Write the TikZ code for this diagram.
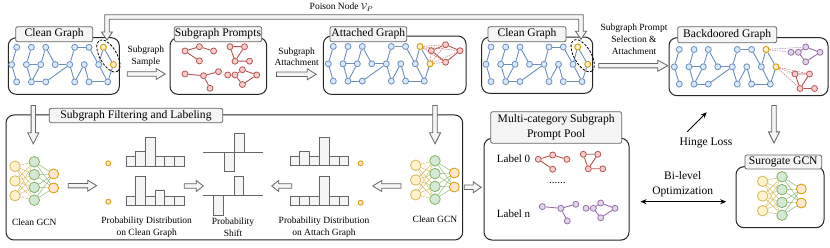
\documentclass[tikz,border=0pt]{standalone}
\usepackage{fontspec}
\setmainfont{Liberation Serif}
\usetikzlibrary{shapes.geometric,calc,arrows.meta}

\definecolor{bline}{HTML}{6C8EBF}
\definecolor{bfill}{HTML}{DAE8FC}
\definecolor{oline}{HTML}{D79B00}
\definecolor{ofill}{HTML}{FFE6CC}
\definecolor{redline}{HTML}{B85450}
\definecolor{redfill}{HTML}{F8CECC}
\definecolor{purpleline}{HTML}{9673A6}
\definecolor{purplefill}{HTML}{E1D5E7}
\definecolor{gline}{HTML}{666666}
\definecolor{gfill}{HTML}{F5F5F5}
\definecolor{yline}{HTML}{D6B656}
\definecolor{yfill}{HTML}{FFF2CC}
\definecolor{grline}{HTML}{82B366}
\definecolor{grfill}{HTML}{D5E8D4}

\tikzset{
 bn/.style={circle, draw=bline, fill=bfill, line width=0.8pt, minimum size=6pt, inner sep=0pt},
 on/.style={circle, draw=oline, fill=yfill, line width=0.9pt, minimum size=6pt, inner sep=0pt},
 be/.style={draw=bline, line width=0.9pt},
 sn/.style={circle, draw=#1line, fill=#1fill, line width=0.8pt, minimum size=6pt, inner sep=0pt},
 se/.style={draw=#1line, line width=0.9pt},
 dsh/.style={draw=#1line!85, line width=0.5pt, dash pattern=on 1.5pt off 1pt},
 mainbox/.style={draw=black!85, line width=1pt, rounded corners=8pt, fill=white, inner sep=0pt},
 titlebox/.style={draw=gline, fill=gfill, line width=0.8pt, rounded corners=2pt, inner sep=0pt, font=\fontsize{11.6}{13}\selectfont},
 lbl/.style={font=\fontsize{9.5}{11.6}\selectfont, align=center, inner sep=0pt},
 biglbl/.style={font=\fontsize{11.5}{15}\selectfont, align=center, inner sep=0pt},
 harrow/.style={draw=gline, fill=gfill, line width=0.8pt, line join=miter},
 bar/.style={draw=gline, fill=gfill, line width=0.8pt},
 dotn/.style={circle, draw=oline, fill=ofill, line width=0.8pt, minimum size=5pt, inner sep=0pt},
 gin/.style={circle, draw=yline, fill=yfill, line width=0.8pt, minimum size=10.5pt, inner sep=0pt},
 ghid/.style={circle, draw=grline, fill=grfill, line width=0.8pt, minimum size=10.5pt, inner sep=0pt},
 gout/.style={circle, draw=oline, fill=ofill, line width=0.8pt, minimum size=10pt, inner sep=0pt},
 pics/bgraph/.style={code={
   \foreach \n/\x/\y in {t1/0/0, t2/14.7/0, t3/29/0, t4/58/0, t5/72.3/0,
      m1/-5/17.3, m2/9.7/17.3, m3/24/17.3, m4/38.5/17.3, m5/53/17.3, m6/67.5/17.3, m7/82/17.3,
      b1/0/34.6, b2/14.7/34.6, b3/29/34.6, b4/58/34.6, b5/72.3/34.6, b6/91/34.6}
     \node[bn] (-\n) at (\x,\y) {};
   \node[on] (-t6) at (86.7,0) {};
   \node[on] (-m8) at (96.7,17.3) {};
   \foreach \a/\b in {t1/m1, m1/b1, t2/m2, m2/b2, m2/m3, t3/m3, m3/b2, b2/b3, t3/m4, m4/m5,
      b3/m5, m5/t4, t4/t5, m5/b4, b4/m6, m6/b5, b5/b6, t5/m7, t6/m7, m7/b6, t6/m8, m8/b6}
     \draw[be] (-\a) -- (-\b);
 }},
 pics/sgA/.style={code={
   \node[sn=#1] (-a) at (0,4.3) {};
   \node[sn=#1] (-b) at (14.4,0) {};
   \node[sn=#1] (-c) at (28.6,4.3) {};
   \node[sn=#1] (-d) at (14.4,14.2) {};
   \draw[se=#1] (-a) -- (-b) (-b) -- (-c) (-a) -- (-d);
 }},
 pics/sgB/.style={code={
   \node[sn=#1] (-a) at (0,0) {};
   \node[sn=#1] (-b) at (14.5,0) {};
   \node[sn=#1] (-c) at (5,14.5) {};
   \node[sn=#1] (-d) at (19.5,14.5) {};
   \draw[se=#1] (-a) -- (-b) (-a) -- (-c) (-b) -- (-c) (-c) -- (-d);
 }},
 pics/sgC/.style={code={
   \node[sn=#1] (-a) at (0,2.3) {};
   \node[sn=#1] (-b) at (18.5,4) {};
   \node[sn=#1] (-c) at (33.5,0) {};
   \node[sn=#1] (-d) at (25,16.6) {};
   \draw[se=#1] (-a) -- (-b) (-b) -- (-c) (-b) -- (-d);
 }},
 pics/sgD/.style={code={
   \node[sn=#1] (-a) at (0,0) {};
   \node[sn=#1] (-b) at (7.3,0) {};
   \node[sn=#1] (-c) at (14.7,-5.3) {};
   \node[sn=#1] (-d) at (29,0) {};
   \node[sn=#1] (-e) at (14.7,9.5) {};
   \draw[se=#1] (-a) -- (-b) (-b) -- (-c) (-c) -- (-d) (-d) -- (-e) (-e) -- (-b);
 }},
 pics/sgE/.style={code={
   \node[sn=#1] (-l) at (0,0) {};
   \node[sn=#1] (-t) at (14.3,-6) {};
   \node[sn=#1] (-r) at (28.6,0) {};
   \node[sn=#1] (-bt) at (14.3,11.5) {};
   \draw[se=#1] (-l) -- (-t) (-t) -- (-r) (-r) -- (-bt) (-bt) -- (-l);
 }},
 pics/gcn/.style={code={
   \foreach \i/\y in {1/-14.7,2/0,3/14.7} \node[gin] (-i\i) at (0,\y) {};
   \foreach \i/\y in {1/-19.2,2/-6.4,3/6.4,4/19.2} \node[ghid] (-h\i) at (19.3,\y) {};
   \foreach \i/\y in {1/-7,2/7} \node[gout] (-o\i) at (38.6,\y) {};
   \foreach \i in {1,2,3} \foreach \j in {1,2,3,4} \draw[yline, line width=0.4pt] (-i\i) -- (-h\j);
   \foreach \j in {1,2,3,4} \foreach \k in {1,2} \draw[grline, line width=0.4pt] (-h\j) -- (-o\k);
 }},
}

\newcommand{\hollow}[3][9]{%
 \path let \p1=#2, \p2=#3 in \pgfextra{%
   \pgfmathsetmacro\hA{atan2(\y2-\y1,\x2-\x1)}%
   \pgfmathsetmacro\hL{veclen(\x2-\x1,\y2-\y1)}%
   \pgfmathsetmacro\hB{\hL-#1}%
   \xdef\hA{\hA}\xdef\hL{\hL}\xdef\hB{\hB}\xdef\hX{\x1}\xdef\hY{\y1}};
 \draw[harrow, shift={(\hX,\hY)}, rotate=\hA, x=1pt, y=1pt]
   (0,2.2) -- (\hB,2.2) -- (\hB,5.5) -- (\hL,0) -- (\hB,-5.5) -- (\hB,-2.2) -- (0,-2.2) -- cycle;
}

\begin{document}
\begin{tikzpicture}[x=1pt,y=-1pt]
\useasboundingbox[fill=white] (0,0) rectangle (830,248);

% main boxes
\node[mainbox, minimum width=111pt, minimum height=56.6pt] (cg1) at (63.8,66) {};
\node[mainbox, minimum width=96.7pt, minimum height=56.6pt] (sp) at (218.35,66) {};
\node[mainbox, minimum width=142.7pt, minimum height=58.3pt] (ag) at (394.7,65.2) {};
\node[mainbox, minimum width=111pt, minimum height=56.3pt] (cg2) at (537.2,65.2) {};
\node[mainbox, minimum width=159pt, minimum height=58pt] (bd) at (748.5,66.7) {};
\node[mainbox, minimum width=456.7pt, minimum height=125pt] (flt) at (234.35,177.5) {};
\node[mainbox, minimum width=145pt, minimum height=101.7pt] (pool) at (556.5,189.2) {};
\node[mainbox, minimum width=88pt, minimum height=61pt] (sgcn) at (780,197.2) {};

% title boxes
\node[titlebox, minimum width=77pt, minimum height=15pt] (cg1t) at (54.2,34.2) {Clean Graph};
\node[titlebox, minimum width=87.4pt, minimum height=15pt] (spt) at (218,34.2) {Subgraph Prompts};
\node[titlebox, minimum width=76.7pt, minimum height=15pt] (agt) at (368.3,34.2) {Attached Graph};
\node[titlebox, minimum width=78pt, minimum height=15pt] (cg2t) at (527,34.2) {Clean Graph};
\node[titlebox, minimum width=99pt, minimum height=16pt] (bdt) at (727.2,34.7) {Backdoored Graph};
\node[titlebox, minimum width=173.4pt, minimum height=14.4pt] (fltt) at (136,115.5) {Subgraph Filtering and Labeling};
\node[titlebox, minimum width=131pt, minimum height=31.6pt, align=center, font=\fontsize{11.6}{15}\selectfont] (poolt) at (556.2,127.5) {Multi-category Subgraph\\Prompt Pool};
\node[titlebox, minimum width=76.7pt, minimum height=14pt] (sgcnt) at (783.3,162) {Surogate GCN};

% graphs
\pic (g1) at (16.7,47.3) {bgraph};
\pic (g2) at (333.3,46.5) {bgraph};
\pic (g3) at (491,47) {bgraph};
\pic (g4) at (679.3,49.5) {bgraph};

\node[draw, ellipse, line width=0.8pt, dash pattern=on 2.5pt off 1.5pt, minimum width=36pt, minimum height=17pt, rotate=-60, inner sep=0pt] (el1) at ($(g1-t6)!.5!(g1-m8)$) {};
\node[draw, ellipse, line width=0.8pt, dash pattern=on 2.5pt off 1.5pt, minimum width=36pt, minimum height=17pt, rotate=-60, inner sep=0pt] (el2) at ($(g3-t6)!.5!(g3-m8)$) {};

% subgraph prompts
\pic (p1) at (185,46.7) {sgA=red};
\pic (p2) at (230,46.7) {sgB=red};
\pic (p3) at (185,71.7) {sgC=red};
\pic (p4) at (227.7,75) {sgD=red};

% attached graph
\pic (ar) at (431.3,50.7) {sgE=red};
\foreach \t in {l,t,r,bt} {
  \draw[dsh=red] (g2-t6) -- (ar-\t);
  \draw[dsh=red] (g2-m8) -- (ar-\t);
}

% backdoored graph
\pic (bp) at (791,52.3) {sgD=purple};
\pic (br) at (795,74) {sgB=red};
\draw[dsh=purple] (g4-t6) -- (bp-a);
\draw[dsh=purple] (g4-t6) -- (bp-c);
\foreach \t in {a,b,c} \draw[dsh=red] (g4-m8) -- (br-\t);

% pool
\node[anchor=west, font=\fontsize{11}{13}\selectfont, inner sep=0pt] (lab0) at (496.7,159) {Label 0};
\node[anchor=west, font=\fontsize{11}{13}\selectfont, inner sep=0pt] (labn) at (496.7,213.3) {Label n};
\node[font=\fontsize{11}{13}\selectfont, inner sep=0pt] (dots) at (557.3,183.5) {......};
\pic (q1) at (538.3,155) {sgA=red};
\pic (q2) at (583.3,154.3) {sgB=red};
\pic (q3) at (542.3,204.3) {sgC=purple};
\pic (q4) at (586,208.3) {sgD=purple};

% GCNs
\pic (n1) at (15,181) {gcn};
\pic (n2) at (415.7,180) {gcn};
\pic (n3) at (762.7,196) {gcn};
\node[lbl] (n1l) at (34.3,222.7) {Clean GCN};
\node[lbl] (n2l) at (435,219.3) {Clean GCN};

% probability distributions
\foreach \h [count=\i from 0] in {10,15,29,10,10,10} \draw[bar] (126+9.7*\i,166.7) rectangle ++(9.7,-\h);
\foreach \h [count=\i from 0] in {9,28.3,9,15,9,9} \draw[bar] (126+9.7*\i,205) rectangle ++(9.7,-\h);
\foreach \h [count=\i from 0] in {9,14,9,28,9,9} \draw[bar] (290+9.8*\i,165.7) rectangle ++(9.8,-\h);
\foreach \h [count=\i from 0] in {9,9,9,28.3,9,9} \draw[bar] (290+9.8*\i,205) rectangle ++(9.8,-\h);
\node[dotn] (d1) at (108.3,163.3) {};
\node[dotn] (d2) at (108.3,201.7) {};
\node[dotn] (d3) at (360.7,163.3) {};
\node[dotn] (d4) at (360.7,202.7) {};

% probability shift
\draw[bar] (224,152.3) rectangle (234,171.7);
\draw[bar] (234,152.3) rectangle (244,133.3);
\draw[gline, line width=0.8pt] (203.3,152.3) -- (262.7,152.3);
\draw[bar] (213.3,195.7) rectangle (223.3,215);
\draw[bar] (234,195.7) rectangle (243.5,176.7);
\draw[gline, line width=0.8pt] (203.3,195.7) -- (262.7,195.7);

\node[lbl] (pdc) at (146.7,227.5) {Probability Distribution\\on Clean Graph};
\node[lbl] (psh) at (233,227.5) {Probability\\Shift};
\node[lbl] (pda) at (324,227.5) {Probability Distribution\\on Attach Graph};

% hollow arrows (top row)
\hollow{($(cg1.east)+(7.4,8)$)}{($(sp.west)+(-4.3,8)$)}
\hollow{($(sp.east)+(9.3,8.3)$)}{($(ag.west)+(-6.6,9.1)$)}
\hollow[10]{($(cg2.east)+(5.6,0.5)$)}{($(bd.west)+(-0.7,-1)$)}
\node[lbl] (t1) at (145.8,56.3) {Subgraph\\Sample};
\node[lbl] (t2) at (296.7,56.7) {Subgraph\\Attachment};
\node[lbl, font=\fontsize{9.5}{12.2}\selectfont] (t3) at (634,39.5) {Subgraph Prompt\\Selection \&\\Attachment};

% vertical hollow arrows
\hollow[11]{($(cg1.south)+(-30.5,10.7)$)}{($(cg1.south)+(-30.5,49)$)}
\hollow[11]{($(ag.south)+(40.3,10.7)$)}{($(ag.south)+(40.3,49)$)}
\hollow[11]{($(bd.south)+(25.5,9.3)$)}{($(sgcnt.north)+(-9.3,-11.7)$)}

% bottom hollow arrows
\coordinate (ba1) at (68.3,185.7);  \coordinate (ba2) at (96.7,185.7);
\coordinate (ba3) at (184.3,186);   \coordinate (ba4) at (203.3,186);
\coordinate (ba5) at (291.7,186);   \coordinate (ba6) at (271.7,186);
\coordinate (ba7) at (401,186);     \coordinate (ba8) at (372.7,186);
\hollow{(ba1)}{(ba2)}
\hollow[7]{(ba3)}{(ba4)}
\hollow[7]{(ba5)}{(ba6)}
\hollow{(ba7)}{(ba8)}
\hollow[8]{($(flt.east)+(1,9.8)$)}{($(pool.west)+(-2.3,-1.9)$)}

% poison node arrow
\coordinate (pn1) at ($(g1-t6)+(3.6,-7.3)$);
\coordinate (pn2) at ($(g3-t6)+(3.3,-7.7)$);
\coordinate (pnbar) at (0,17);
\draw[harrow] let \p1=(pn1), \p2=(pn2), \p3=(pnbar) in
  (\x1,\y1) -- (\x1-5.5pt,\y1+8pt) -- (\x1-2.3pt,\y1+8pt) -- (\x1-2.3pt,\y3+2.3pt)
  -- (\x2+2.3pt,\y3+2.3pt) -- (\x2+2.3pt,\y2+8pt) -- (\x2+5.5pt,\y2+8pt) -- (\x2,\y2)
  -- (\x2-5.5pt,\y2+8pt) -- (\x2-2.3pt,\y2+8pt) -- (\x2-2.3pt,\y3-2.3pt)
  -- (\x1+2.3pt,\y3-2.3pt) -- (\x1+2.3pt,\y1+8pt) -- (\x1+5.5pt,\y1+8pt) -- cycle;
\node[lbl] (pnl) at (341.5,7.3) {Poison Node $\mathcal{V}_{P}$};

% hinge loss and bi-level
\coordinate (hl1) at (687.3,131.7);
\coordinate (hl2) at (706.7,112.3);
\draw[-{Stealth[length=6pt,width=5pt]}, line width=0.8pt] (hl1) -- (hl2);
\node[biglbl] (hlt) at (706,142.7) {Hinge Loss};
\draw[{Stealth[length=6pt,width=5pt]}-{Stealth[length=6pt,width=5pt]}, line width=0.9pt] ($(pool.east)+(11,12.5)$) -- ($(sgcn.west)+(-9.3,4.5)$);
\node[biglbl] (blt) at (682.7,184.2) {Bi-level\\Optimization};
\end{tikzpicture}
\end{document}
